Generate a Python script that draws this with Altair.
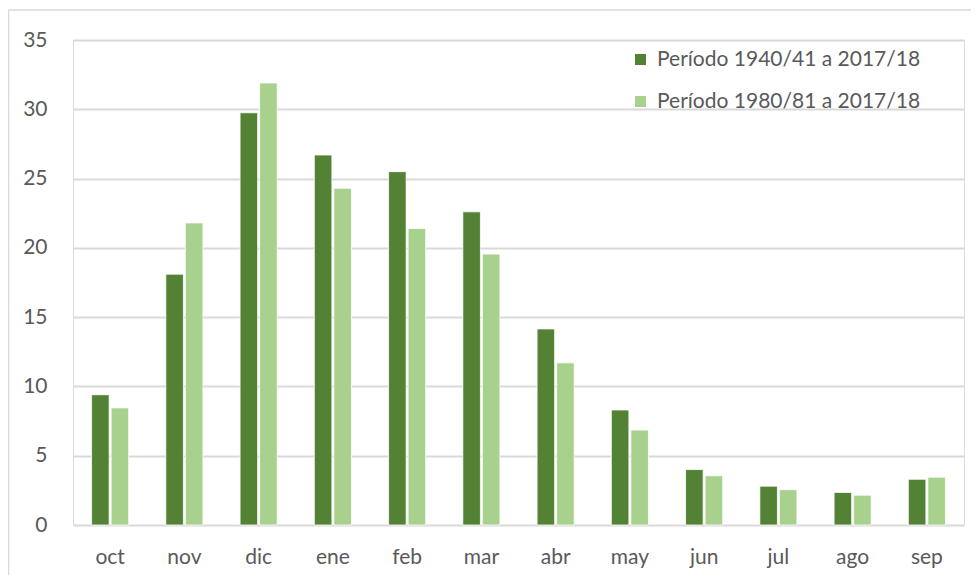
import altair as alt
import pandas as pd

months = ["oct", "nov", "dic", "ene", "feb", "mar", "abr", "may", "jun", "jul", "ago", "sep"]
series = ["Período 1940/41 a 2017/18", "Período 1980/81 a 2017/18"]
vals_1940 = [9.4, 18.1, 29.75, 26.7, 25.5, 22.6, 14.15, 8.3, 4.0, 2.8, 2.35, 3.3]
vals_1980 = [8.45, 21.8, 31.9, 24.3, 21.4, 19.55, 11.7, 6.85, 3.55, 2.55, 2.15, 3.45]
colors = ["#548235", "#A9D18E"]

rows = []
for m, a, b in zip(months, vals_1940, vals_1980):
    rows.append({"mes": m, "serie": series[0], "valor": a})
    rows.append({"mes": m, "serie": series[1], "valor": b})
df = pd.DataFrame(rows)

FONT = "Lato"
GRAY = "#595959"
GRID = "#d9d9d9"

W, H = 891, 485

bars = alt.Chart(df).mark_bar(stroke="white", strokeWidth=0.8).encode(
    x=alt.X("mes:N", sort=months, title=None,
            scale=alt.Scale(paddingInner=0.5, paddingOuter=0.25),
            axis=alt.Axis(labelAngle=0, domain=False, ticks=False, labelPadding=21,
                          labelFontSize=21, labelColor=GRAY, labelFont=FONT)),
    xOffset=alt.XOffset("serie:N", sort=series, scale=alt.Scale(paddingInner=0.1)),
    y=alt.Y("valor:Q", title=None,
            scale=alt.Scale(domain=[0, 35], nice=False),
            axis=alt.Axis(values=[0, 5, 10, 15, 20, 25, 30, 35], domain=False, ticks=False,
                          labelPadding=26, grid=True, gridColor=GRID, gridWidth=2,
                          labelFontSize=21, labelColor=GRAY, labelFont=FONT)),
    color=alt.Color("serie:N", sort=series,
                    scale=alt.Scale(domain=series, range=colors),
                    legend=alt.Legend(title=None, orient="none", legendX=557, legendY=9,
                                      symbolType="square", symbolSize=121, symbolStrokeWidth=0,
                                      labelFontSize=21, labelColor=GRAY, labelFont=FONT,
                                      labelLimit=0, labelOffset=6, rowPadding=20, padding=0)),
)

border_df = pd.DataFrame({"k": [0]})
left_border = alt.Chart(border_df).mark_rule(color=GRID, strokeWidth=1.5).encode(
    x=alt.value(-64.5), y=alt.value(-30), y2=alt.value(H + 60))
top_border = alt.Chart(border_df).mark_rule(color=GRID, strokeWidth=1.5).encode(
    x=alt.value(-64.5), x2=alt.value(W + 20), y=alt.value(-30))

chart = alt.layer(bars, left_border, top_border).properties(
    width=W, height=H,
    autosize=alt.AutoSizeParams(type="none"),
    padding={"left": 65, "top": 32, "right": 7, "bottom": 50},
).configure_view(stroke=None).configure(background="white")

chart.save("out.html", embed_options={"renderer": "svg", "actions": False})
